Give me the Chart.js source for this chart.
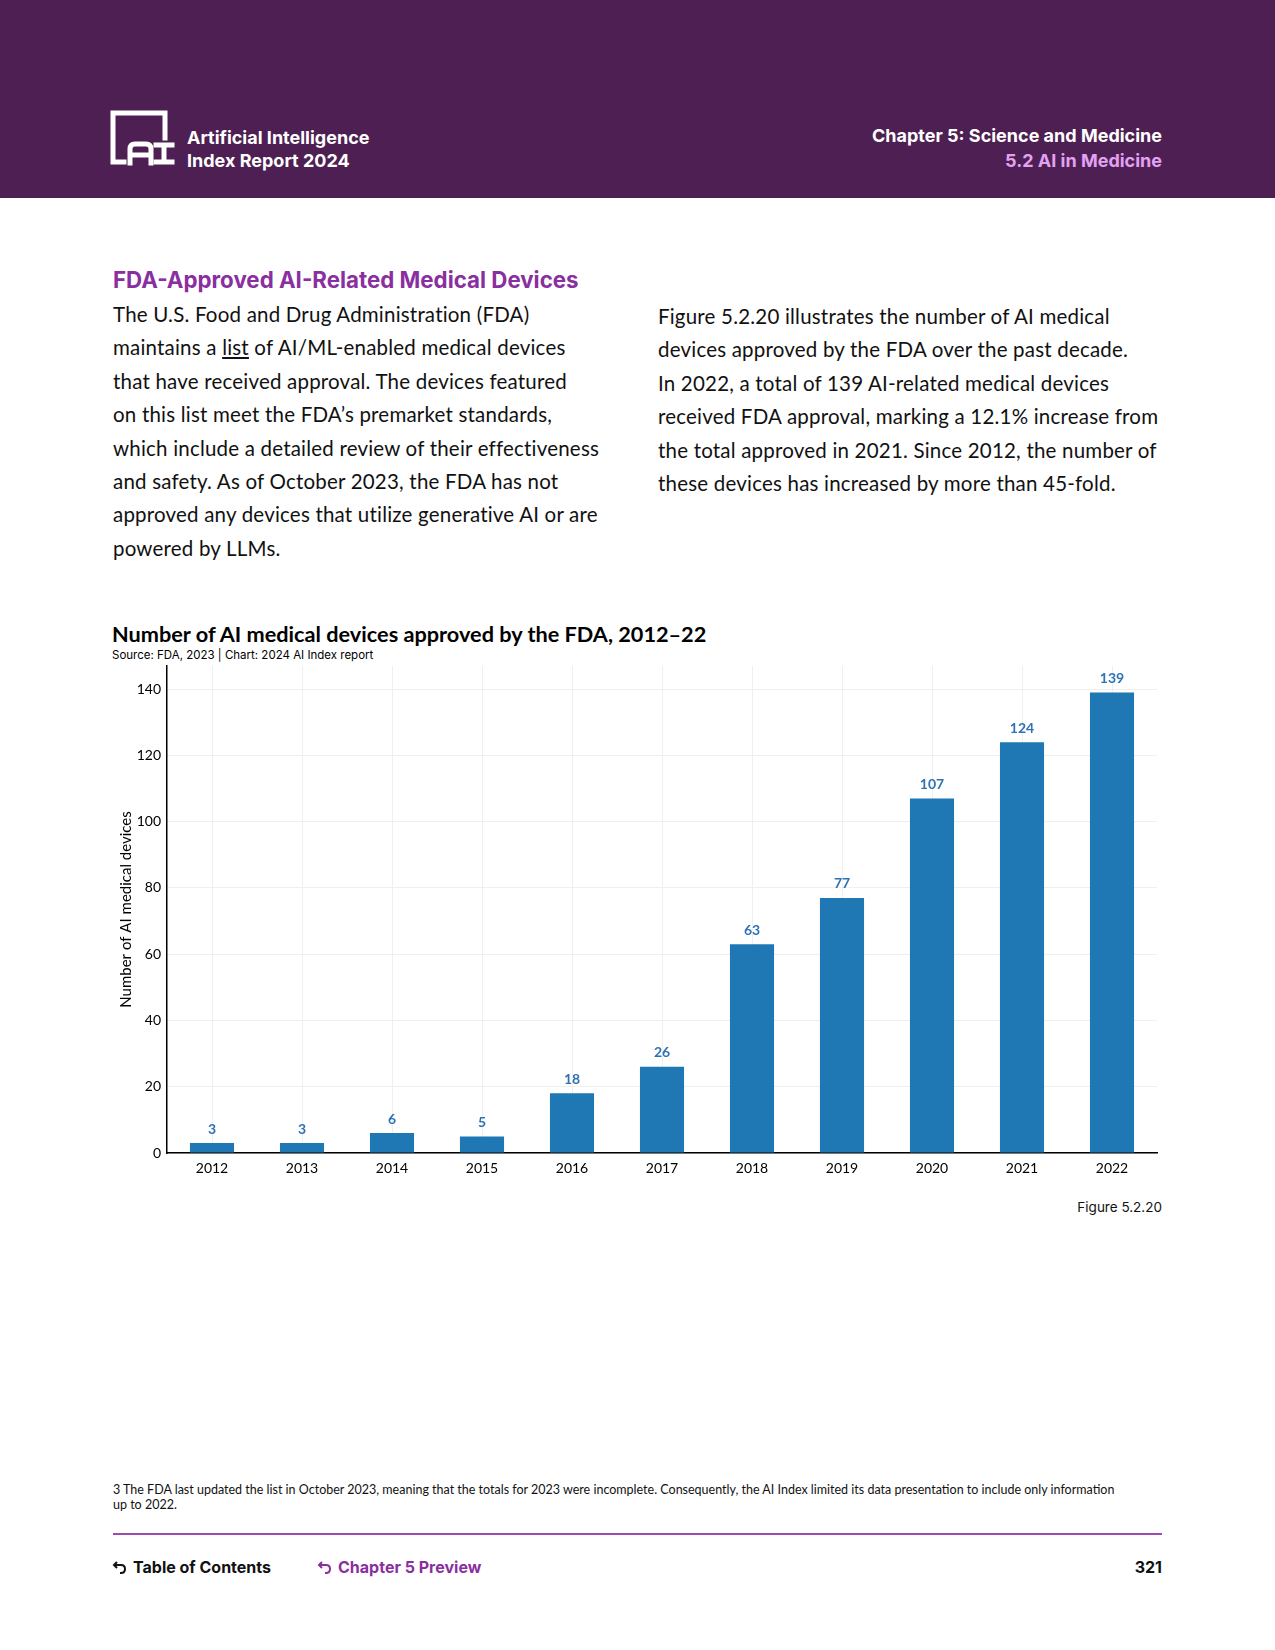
<!DOCTYPE html>
<html>
<head>
<meta charset="utf-8">
<script src="https://cdn.jsdelivr.net/npm/chart.js@4"></script>
<style>
  html, body { margin: 0; padding: 0; background: #fff; }
  body { width: 1275px; height: 1650px; position: relative; font-family: Lato, "Noto Sans", sans-serif; color: #111; }
  .abs { position: absolute; white-space: nowrap; }
  #header { position: absolute; left: 0; top: 0; width: 1275px; height: 198px; background: #4e1f52; }
  .hdr { font-family: Inter, sans-serif; font-weight: 700; font-size: 18px; color: #fff; line-height: 24px; }
  .body-text { font-size: 20.5px; line-height: 33.4px; letter-spacing: 0.2px; color: #111; }
  .foot { font-family: Inter, sans-serif; font-weight: 700; font-size: 16px; }
  #chart-wrap { position: absolute; left: 100px; top: 640px; width: 1075px; height: 545px; }
</style>
</head>
<body>
<div id="header">
  <svg class="abs" style="left:110px; top:110px;" width="70" height="60" viewBox="0 0 70 60">
    <g fill="none" stroke="#fff" stroke-width="5" stroke-linecap="square">
      <path d="M 14 52 L 3 52 L 3 3 L 55 3 L 55 28"/>
      <path d="M 20 53 L 20 39 Q 20 34 25 34 L 36 34 Q 41 34 41 39 L 41 53"/>
      <path d="M 21 45 L 40 45"/>
      <path d="M 46 35 L 62 35 M 54 35 L 54 51 M 46 52 L 62 52"/>
    </g>
  </svg>
  <div class="abs hdr" style="left:187px; top:126px;">Artificial Intelligence</div>
  <div class="abs hdr" style="left:187px; top:149px;">Index Report 2024</div>
  <div class="abs hdr" style="right:113px; top:124px; text-align:right;">Chapter 5: Science and Medicine</div>
  <div class="abs hdr" style="right:113px; top:149px; text-align:right; color:#e2a2f2;">5.2 AI in Medicine</div>
</div>

<div class="abs" style="left:113px; top:266px; font-family: Inter, sans-serif; font-weight:700; font-size:22.3px; color:#8a2f9f;">FDA-Approved AI-Related Medical Devices</div>

<div class="abs body-text" style="left:113px; top:298px;">
The U.S. Food and Drug Administration (FDA)<br>
maintains a <span style="text-decoration:underline;">list</span> of AI/ML-enabled medical devices<br>
that have received approval. The devices featured<br>
on this list meet the FDA’s premarket standards,<br>
which include a detailed review of their effectiveness<br>
and safety. As of October 2023, the FDA has not<br>
approved any devices that utilize generative AI or are<br>
powered by LLMs.
</div>

<div class="abs body-text" style="left:658px; top:300px;">
Figure 5.2.20 illustrates the number of AI medical<br>
devices approved by the FDA over the past decade.<br>
In 2022, a total of 139 AI-related medical devices<br>
received FDA approval, marking a 12.1% increase from<br>
the total approved in 2021. Since 2012, the number of<br>
these devices has increased by more than 45-fold.
</div>

<div class="abs" style="left:112px; top:621px; font-weight:700; font-size:21.7px; color:#000;">Number of AI medical devices approved by the FDA, 2012–22</div>
<div class="abs" style="left:112px; top:648px; font-family: Inter, sans-serif; font-size:11.5px; color:#000;">Source: FDA, 2023 | Chart: 2024 AI Index report</div>

<div id="chart-wrap"><canvas id="chart"></canvas></div>

<div class="abs" style="right:113px; top:1199px; font-family: Inter, sans-serif; font-size:13.5px; color:#111;">Figure 5.2.20</div>

<div class="abs" style="left:113px; top:1482px; font-size:12.5px; line-height:15px; color:#111;">
3 The FDA last updated the list in October 2023, meaning that the totals for 2023 were incomplete. Consequently, the AI Index limited its data presentation to include only information<br>
up to 2022.
</div>

<div class="abs" style="left:113px; top:1533px; width:1049px; height:2px; background:#9b4db0;"></div>

<svg class="abs" style="left:112px; top:1560px;" width="16" height="16" viewBox="0 0 16 16">
  <path d="M 5 2 L 2 5 L 5 8 M 2 5 L 9 5 Q 13 5 13 9 Q 13 13 9 13 L 8 13" fill="none" stroke="#111" stroke-width="2"/>
</svg>
<div class="abs foot" style="left:133px; top:1557px; color:#111;">Table of Contents</div>
<svg class="abs" style="left:317px; top:1560px;" width="16" height="16" viewBox="0 0 16 16">
  <path d="M 5 2 L 2 5 L 5 8 M 2 5 L 9 5 Q 13 5 13 9 Q 13 13 9 13 L 8 13" fill="none" stroke="#8a2f9f" stroke-width="2"/>
</svg>
<div class="abs foot" style="left:338px; top:1557px; color:#8a2f9f;">Chapter 5 Preview</div>
<div class="abs foot" style="right:113px; top:1557px; color:#111;">321</div>

<script>
const years = ['2012', '2013', '2014', '2015', '2016', '2017', '2018', '2019', '2020', '2021', '2022'];
const devices = [3, 3, 6, 5, 18, 26, 63, 77, 107, 124, 139];
const yTicks = [0, 20, 40, 60, 80, 100, 120, 140];

const barBlue = '#1f77b4';
const labelBlue = '#2e72b4';

// value labels above the bars
const valueLabels = {
  id: 'valueLabels',
  afterDatasetsDraw(chart) {
    const ctx = chart.ctx;
    const meta = chart.getDatasetMeta(0);
    ctx.save();
    ctx.font = 'bold 14px Lato';
    ctx.fillStyle = labelBlue;
    ctx.textAlign = 'center';
    ctx.textBaseline = 'middle';
    meta.data.forEach((bar, i) => {
      ctx.fillText(String(devices[i]), bar.x, bar.y - 14);
    });
    ctx.restore();
  }
};

new Chart(document.getElementById('chart'), {
  type: 'bar',
  data: {
    labels: years,
    datasets: [
      {
        label: 'Number of AI medical devices',
        data: devices,
        backgroundColor: barBlue,
        borderWidth: 0,
        barPercentage: 0.49,
        categoryPercentage: 1
      }
    ]
  },
  options: {
    responsive: true,
    maintainAspectRatio: false,
    animation: false,
    layout: {
      padding: { top: 26, right: 18, bottom: 2, left: 0 }
    },
    plugins: {
      legend: { display: false },
      tooltip: { enabled: false }
    },
    scales: {
      x: {
        grid: {
          color: '#efefef',
          offset: false,
          drawTicks: false
        },
        border: { color: '#000', width: 1.5 },
        ticks: {
          color: '#000',
          padding: 7,
          maxRotation: 0,
          font: { family: 'Lato', size: 14 }
        },
        afterFit(scale) { scale.height = 30; }
      },
      y: {
        min: 0,
        max: 147,
        grid: {
          color: '#efefef',
          drawTicks: false
        },
        border: { color: '#000', width: 1.5 },
        ticks: {
          color: '#000',
          padding: 6,
          stepSize: 20,
          font: { family: 'Lato', size: 14 }
        },
        afterBuildTicks(scale) {
          scale.ticks = yTicks.map(v => ({ value: v }));
        },
        title: {
          display: true,
          text: 'Number of AI medical devices',
          color: '#000',
          font: { family: 'Lato', size: 15 },
          padding: { top: 17, bottom: 0 }
        },
        afterFit(scale) { scale.width = 67; }
      }
    }
  },
  plugins: [valueLabels]
});
</script>
</body>
</html>
